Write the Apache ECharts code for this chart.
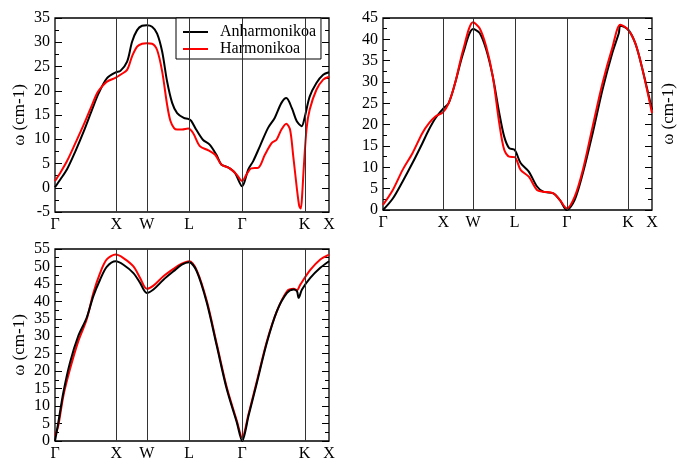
<!DOCTYPE html>
<html>
<head>
<meta charset="utf-8">
<script src="https://cdn.jsdelivr.net/npm/echarts@6/dist/echarts.min.js"></script>
<style>
  html, body { margin: 0; padding: 0; background: #fff; }
  #chart { width: 678px; height: 463px; }
</style>
</head>
<body>
<div id="chart"></div>
<script>
// High-symmetry points along the k-path (distance in units of Γ-X)
const kLabels = ['Γ', 'X', 'W', 'L', 'Γ', 'K', 'X'];
const kPos = [0, 1, 1.496, 2.186, 3.05, 4.067, 4.465];

// Branch 1 (TA1): [k-distance, ω]
const b1Anharm = [
  [0, 0.1], [0.087, 1.7], [0.196, 3.8], [0.332, 7.5], [0.468, 11.6], [0.604, 16.1],
  [0.712, 19.5], [0.848, 22.6], [0.99, 23.8], [1.066, 24.1], [1.175, 26.0], [1.256, 30.1],
  [1.338, 32.5], [1.419, 33.4], [1.495, 33.5], [1.582, 33.2], [1.664, 31.8], [1.746, 28.1],
  [1.827, 21.9], [1.909, 17.5], [1.99, 15.4], [2.099, 14.4], [2.17, 14.2], [2.22, 13.8],
  [2.30, 12.0], [2.41, 9.9], [2.52, 8.9], [2.63, 6.8], [2.71, 4.8], [2.82, 4.2],
  [2.93, 3.1], [3.05, 0.3], [3.15, 3.8], [3.23, 5.5], [3.34, 8.6], [3.47, 12.3],
  [3.58, 14.4], [3.69, 17.5], [3.77, 18.5], [3.86, 16.4], [3.94, 13.7], [4.02, 12.7],
  [4.067, 14.4], [4.15, 18.8], [4.26, 21.6], [4.37, 23.3], [4.465, 23.8]
];
const b1Harm = [
  [0, 1.4], [0.087, 3.1], [0.196, 5.5], [0.332, 9.2], [0.468, 13.0], [0.604, 17.1],
  [0.685, 19.5], [0.767, 20.9], [0.848, 21.9], [0.99, 22.7], [1.066, 23.3], [1.175, 24.3],
  [1.256, 27.1], [1.338, 29.1], [1.419, 29.7], [1.495, 29.8], [1.582, 29.7], [1.664, 28.4],
  [1.746, 24.0], [1.827, 17.1], [1.88, 13.8], [1.94, 12.3], [1.99, 12.0], [2.07, 12.0],
  [2.17, 12.2], [2.25, 11.3], [2.36, 8.6], [2.50, 7.7], [2.61, 6.8], [2.71, 4.8],
  [2.85, 4.0], [2.96, 2.7], [3.05, 1.4], [3.12, 2.7], [3.20, 4.0], [3.31, 4.1],
  [3.42, 6.8], [3.53, 9.2], [3.61, 9.9], [3.69, 12.0], [3.77, 13.2], [3.83, 12.0],
  [3.88, 6.8], [3.94, 0], [3.98, -3.8], [4.005, -4.3], [4.03, -1.0], [4.05, 3.4],
  [4.10, 12.3], [4.15, 16.1], [4.26, 20.2], [4.37, 22.3], [4.465, 22.9]
];

// Branch 2 (TA2)
const b2Anharm = [
  [0, 0], [0.163, 2.7], [0.326, 6.7], [0.489, 11.0], [0.652, 15.6], [0.761, 18.8],
  [0.87, 21.5], [0.995, 23.7], [1.088, 25.0], [1.196, 29.7], [1.332, 36.8], [1.495, 42.4],
  [1.604, 41.5], [1.713, 37.6], [1.822, 31.3], [1.93, 22.7], [2.012, 17.2], [2.094, 14.5],
  [2.186, 14.1], [2.284, 11.0], [2.42, 9.0], [2.556, 5.5], [2.66, 4.3], [2.828, 3.9],
  [2.937, 2.3], [3.05, 0], [3.18, 2.3], [3.317, 8.6], [3.48, 18.0], [3.643, 28.2],
  [3.806, 36.8], [3.915, 41.5], [3.94, 43.2], [4.067, 42.3], [4.187, 39.1], [4.296, 33.6],
  [4.465, 23.5]
];
const b2Harm = [
  [0, 1.2], [0.163, 4.7], [0.326, 9.4], [0.489, 13.3], [0.652, 18.0], [0.761, 20.3],
  [0.87, 21.9], [0.995, 22.9], [1.088, 25.0], [1.196, 29.7], [1.332, 37.6], [1.495, 44.0],
  [1.604, 42.6], [1.713, 38.3], [1.822, 31.3], [1.93, 20.3], [2.012, 14.1], [2.094, 12.5],
  [2.186, 12.4], [2.284, 9.4], [2.42, 7.8], [2.556, 4.7], [2.66, 4.3], [2.828, 3.9],
  [2.937, 2.3], [3.05, 0.4], [3.18, 3.1], [3.317, 9.4], [3.48, 19.6], [3.643, 29.7],
  [3.806, 38.0], [3.94, 43.4], [4.067, 42.3], [4.187, 39.1], [4.296, 33.6], [4.465, 22.7]
];

// Branch 3 (LA)
const b3Anharm = [
  [0, 0], [0.054, 5.3], [0.136, 13.9], [0.245, 22.5], [0.38, 30.1], [0.516, 35.3],
  [0.625, 41.5], [0.734, 46.2], [0.843, 49.9], [0.99, 51.5], [1.115, 50.5], [1.278, 48.1],
  [1.387, 45.3], [1.495, 42.4], [1.604, 43.4], [1.767, 46.2], [1.93, 48.6], [2.066, 50.5],
  [2.186, 51.2], [2.31, 48.6], [2.474, 39.6], [2.637, 27.2], [2.8, 14.8], [2.963, 5.3],
  [3.05, 0], [3.154, 7.2], [3.29, 16.7], [3.453, 28.2], [3.616, 37.2], [3.78, 42.4],
  [3.889, 43.4], [3.943, 42.9], [3.97, 41.0], [4.025, 43.4], [4.16, 46.7], [4.323, 49.6],
  [4.465, 51.5]
];
const b3Harm = [
  [0, 1.5], [0.054, 4.4], [0.136, 12.9], [0.245, 20.6], [0.38, 28.6], [0.516, 34.8],
  [0.625, 42.4], [0.734, 48.1], [0.843, 52.0], [0.99, 53.4], [1.115, 52.4], [1.278, 50.0],
  [1.387, 46.7], [1.495, 43.6], [1.604, 44.5], [1.767, 47.2], [1.93, 49.3], [2.066, 50.8],
  [2.186, 51.5], [2.31, 48.9], [2.474, 40.1], [2.637, 27.7], [2.8, 15.3], [2.963, 5.8],
  [3.05, 1.0], [3.154, 7.7], [3.29, 17.2], [3.453, 28.6], [3.616, 37.2], [3.78, 42.9],
  [3.889, 43.6], [3.943, 43.2], [3.997, 44.8], [4.16, 49.0], [4.323, 52.0], [4.465, 53.4]
];

// Y ranges of the three panels
const yRanges = [[-5, 35], [0, 45], [0, 55]];
const yName = 'ω (cm-1)';

const FONT = 'Liberation Serif';

const grids = [
  { left: 55, top: 18, width: 274, height: 194 },
  { left: 383, top: 18, width: 274, height: 192 },
  { left: 55, top: 249, width: 274, height: 192 }
].map(g => Object.assign(g, { show: true, borderColor: '#000', borderWidth: 1.3, backgroundColor: 'transparent' }));

const xAxes = grids.map((g, i) => ({
  gridIndex: i, type: 'value', min: 0, max: kPos[kPos.length - 1],
  axisLine: { show: false }, axisTick: { show: false }, splitLine: { show: false },
  axisLabel: {
    customValues: kPos,
    formatter: v => kLabels[kPos.findIndex(p => Math.abs(p - v) < 1e-6)] || '',
    fontFamily: FONT, fontSize: 16, color: '#000', margin: 5
  }
}));

function yAxisPair(i, nameRight) {
  const [mn, mx] = yRanges[i];
  const base = {
    gridIndex: i, type: 'value', min: mn, max: mx, interval: 5,
    axisLine: { show: false }, splitLine: { show: false },
    axisTick: { inside: true, length: 7, lineStyle: { color: '#000', width: 1 } },
    minorTick: { show: true, splitNumber: 2, length: 4, lineStyle: { color: '#000', width: 1 } },
    nameLocation: 'middle', nameRotate: 90,
    nameTextStyle: { fontFamily: FONT, fontSize: 17, color: '#000' }
  };
  const left = Object.assign({}, base, {
    position: 'left',
    axisLabel: { fontFamily: FONT, fontSize: 16, color: '#000', margin: 5 },
    name: nameRight ? '' : yName, nameGap: 27
  });
  const right = Object.assign({}, base, {
    position: 'right',
    axisLabel: { show: false },
    name: nameRight ? yName : '', nameGap: 8
  });
  return [left, right];
}

const yAxes = [].concat(yAxisPair(0, false), yAxisPair(1, true), yAxisPair(2, false));

const vLines = {
  silent: true, symbol: ['none', 'none'], label: { show: false },
  lineStyle: { color: '#333', width: 1, type: 'solid' },
  data: kPos.slice(1, kPos.length - 1).map(v => ({ xAxis: v }))
};

function curve(name, data, gi, color, z, withLines) {
  const s = {
    name, type: 'line', data, xAxisIndex: gi, yAxisIndex: gi * 2,
    symbol: 'none', showSymbol: false, smooth: 0.3, z,
    lineStyle: { color, width: 2 }, itemStyle: { color }
  };
  if (withLines) s.markLine = vLines;
  return s;
}

const series = [
  curve('Anharmonikoa', b1Anharm, 0, '#000', 3, true),
  curve('Harmonikoa', b1Harm, 0, '#ff0000', 4, false),
  curve('Anharmonikoa', b2Anharm, 1, '#000', 3, true),
  curve('Harmonikoa', b2Harm, 1, '#ff0000', 4, false),
  curve('Anharmonikoa', b3Anharm, 2, '#000', 4, true),
  curve('Harmonikoa', b3Harm, 2, '#ff0000', 3, false)
];

const chart = echarts.init(document.getElementById('chart'), null, { renderer: 'canvas' });
chart.setOption({
  animation: false,
  backgroundColor: '#fff',
  grid: grids,
  xAxis: xAxes,
  yAxis: yAxes,
  legend: {
    left: 176, top: 18, orient: 'vertical',
    data: ['Anharmonikoa', 'Harmonikoa'],
    backgroundColor: '#fff', borderColor: '#000', borderWidth: 1,
    padding: [6, 5, 2, 7], itemGap: 1, itemWidth: 25, itemHeight: 2, icon: 'rect',
    textStyle: { fontFamily: FONT, fontSize: 16, color: '#000', lineHeight: 16, padding: [0, 0, 0, 7] }
  },
  series
});
</script>
</body>
</html>
